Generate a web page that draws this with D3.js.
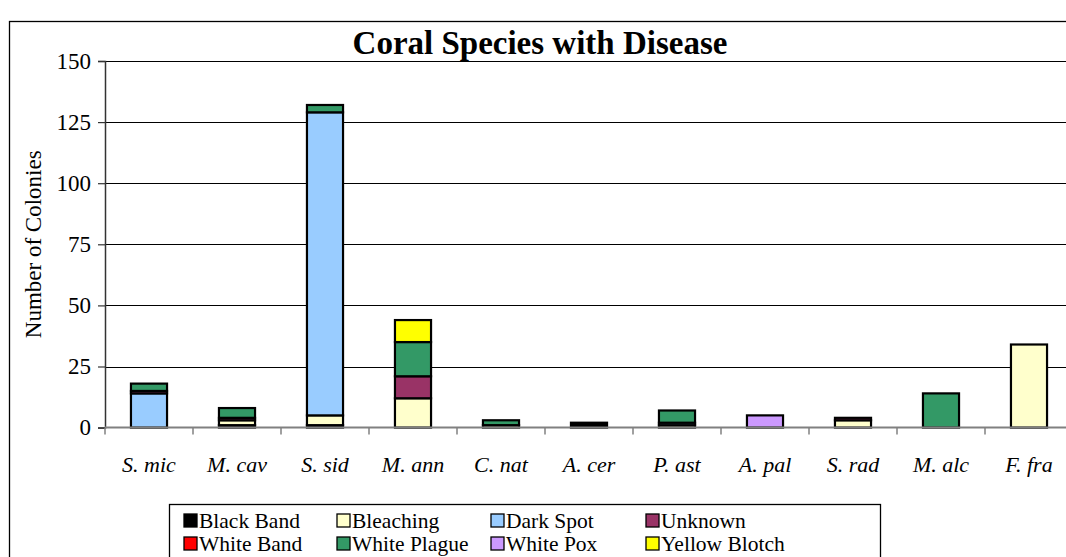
<!DOCTYPE html>
<html>
<head>
<meta charset="utf-8">
<script src="https://cdn.jsdelivr.net/npm/d3@7"></script>
<style>
  html, body { margin: 0; padding: 0; background: #fff; overflow: hidden; }
  svg { display: block; }
  text { font-family: "Liberation Serif", "Times New Roman", serif; fill: #000; }
</style>
</head>
<body>
<svg id="chart" width="1066" height="557"></svg>
<script>
const categories = ["S. mic", "M. cav", "S. sid", "M. ann", "C. nat", "A. cer", "P. ast", "A. pal", "S. rad", "M. alc", "F. fra"];
const seriesNames = ["Black Band", "Bleaching", "Dark Spot", "Unknown", "White Band", "White Plague", "White Pox", "Yellow Blotch"];
const seriesColors = ["#000000", "#FFFFCC", "#99CCFF", "#993366", "#FF0000", "#339966", "#CC99FF", "#FFFF00"];
const blackBand    = [0, 1, 1, 0, 0, 2, 0, 0, 0, 0, 0];
const bleaching    = [0, 2, 4, 12, 1, 0, 1, 0, 3, 0, 34];
const darkSpot     = [14, 0, 124, 0, 0, 0, 1, 0, 0, 0, 0];
const unknown      = [1, 1, 0, 9, 0, 0, 0, 0, 1, 0, 0];
const whiteBand    = [0, 0, 0, 0, 0, 0, 0, 0, 0, 0, 0];
const whitePlague  = [3, 4, 3, 14, 2, 0, 5, 0, 0, 14, 0];
const whitePox     = [0, 0, 0, 0, 0, 0, 0, 5, 0, 0, 0];
const yellowBlotch = [0, 0, 0, 9, 0, 0, 0, 0, 0, 0, 0];
const yTicks = [0, 25, 50, 75, 100, 125, 150];
const titleText = "Coral Species with Disease";
const yAxisTitle = "Number of Colonies";

const seriesValues = [blackBand, bleaching, darkSpot, unknown, whiteBand, whitePlague, whitePox, yellowBlotch];
const rows = categories.map((c, i) => {
  const r = { cat: c };
  seriesNames.forEach((s, j) => r[s] = seriesValues[j][i]);
  return r;
});

const svg = d3.select("#chart");
const plot = { left: 105, right: 1073, top: 61, bottom: 427.6 };

// outer chart border
svg.append("rect").attr("x", 9.5).attr("y", 21.5).attr("width", 1100).attr("height", 600)
  .attr("fill", "none").attr("stroke", "#000").attr("stroke-width", 1.3);

const x = d3.scaleBand().domain(categories).range([plot.left, plot.right]).padding(0);
const y = d3.scaleLinear().domain([0, 150]).range([plot.bottom, plot.top]);

// gridlines
svg.append("g").selectAll("line").data(yTicks.filter(t => t > 0)).join("line")
  .attr("x1", plot.left).attr("x2", plot.right)
  .attr("y1", d => Math.round(y(d)) + 0.5).attr("y2", d => Math.round(y(d)) + 0.5)
  .attr("stroke", "#000").attr("stroke-width", 1);

// bars
const stacked = d3.stack().keys(seriesNames)(rows);
const barW = x.bandwidth() * 0.41;
const gBars = svg.append("g");
stacked.forEach((layer, j) => {
  gBars.append("g").selectAll("rect").data(layer.filter(d => d[1] - d[0] > 0)).join("rect")
    .attr("x", d => x(d.data.cat) + (x.bandwidth() - barW) / 2)
    .attr("y", d => y(d[1]))
    .attr("width", barW)
    .attr("height", d => y(d[0]) - y(d[1]))
    .attr("fill", seriesColors[j])
    .attr("stroke", "#000").attr("stroke-width", 2.2);
});

// y axis
const yAxis = d3.axisLeft(y).tickValues(yTicks).tickSize(7).tickPadding(7);
const gy = svg.append("g").attr("transform", `translate(${plot.left},0)`).call(yAxis);
gy.select(".domain").attr("stroke", "#333").attr("stroke-width", 1.5);
gy.selectAll(".tick line").attr("stroke", "#333").attr("stroke-width", 1.2);
gy.selectAll(".tick text").style("font-family", "Liberation Serif").style("font-size", "23px");

// x axis
const gx = svg.append("g").attr("transform", `translate(0,${plot.bottom})`);
gx.append("line").attr("x1", plot.left).attr("x2", plot.right).attr("y1", 0).attr("y2", 0)
  .attr("stroke", "#808080").attr("stroke-width", 2);
const bounds = categories.map(c => x(c)).concat([x(categories[categories.length - 1]) + x.bandwidth()]);
gx.selectAll("line.tk").data(bounds).join("line").attr("class", "tk")
  .attr("x1", d => d).attr("x2", d => d).attr("y1", 0).attr("y2", 7)
  .attr("stroke", "#808080").attr("stroke-width", 1.5);
gx.selectAll("text").data(categories).join("text")
  .attr("x", d => x(d) + x.bandwidth() / 2).attr("y", 44)
  .attr("text-anchor", "middle").style("font-size", "22px").style("font-style", "italic")
  .text(d => d);

// title
svg.append("text").attr("x", 540).attr("y", 54).attr("text-anchor", "middle")
  .style("font-size", "33px").style("font-weight", "bold").text(titleText);

// y title
svg.append("text").attr("transform", `translate(41,${(plot.top + plot.bottom) / 2}) rotate(-90)`)
  .attr("text-anchor", "middle").style("font-size", "23px").text(yAxisTitle);

// legend
const lg = svg.append("g");
lg.append("rect").attr("x", 169.5).attr("y", 504.5).attr("width", 711).attr("height", 80)
  .attr("fill", "#fff").attr("stroke", "#000").attr("stroke-width", 1.3);
const colX = [184, 337, 491, 646];
const rowY = [520.5, 543.5];
seriesNames.forEach((s, j) => {
  const cx = colX[j % 4], cy = rowY[Math.floor(j / 4)];
  lg.append("rect").attr("x", cx).attr("y", cy - 6.5).attr("width", 13).attr("height", 13)
    .attr("fill", seriesColors[j]).attr("stroke", "#000").attr("stroke-width", 1.3);
  lg.append("text").attr("x", cx + 15).attr("y", cy).attr("dy", "0.35em")
    .style("font-size", "21.5px").text(s);
});
</script>
</body>
</html>
